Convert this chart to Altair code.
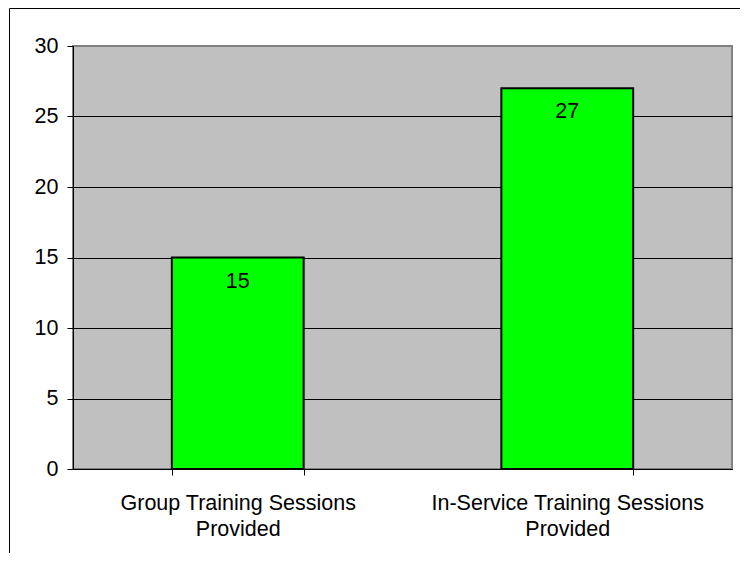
import altair as alt
import pandas as pd

categories = ["Group Training Sessions|Provided", "In-Service Training Sessions|Provided"]
values = [15, 27]
y_ticks = [0, 5, 10, 15, 20, 25, 30]

df = pd.DataFrame({"category": categories, "value": values})
FONT = "Liberation Sans"
FS = 21.5

x_enc = alt.X(
    "category:N", sort=categories, title=None,
    scale=alt.Scale(paddingInner=0.6, paddingOuter=0.3),
    axis=alt.Axis(labelAngle=0, labelExpr="split(datum.label, '|')",
                  labelFontSize=FS, labelFont=FONT, labelColor="black",
                  labelLineHeight=26, labelPadding=17, labelLimit=500,
                  tickBand="extent", tickSize=6, tickColor="black",
                  domainColor="black", grid=False),
)
y_enc = alt.Y(
    "value:Q", title=None,
    scale=alt.Scale(domain=[0, 30], nice=False),
    axis=alt.Axis(values=y_ticks, labelFontSize=FS, labelFont=FONT,
                  labelColor="black", labelPadding=9, tickSize=6,
                  tickColor="black", domainColor="black",
                  gridColor={"condition": {"test": "datum.value == 30", "value": "#808080"},
                             "value": "black"},
                  gridWidth=1, gridOpacity=1),
)

base = alt.Chart(df)
bars = base.mark_bar(color="#00FF00", stroke="black", strokeWidth=2).encode(x=x_enc, y=y_enc)
labels = base.mark_text(dy=30, baseline="alphabetic", fontSize=FS, font=FONT,
                        color="black").encode(x=x_enc, y=y_enc, text="value:Q")

frame = alt.Chart(pd.DataFrame({"a": [0]})).mark_rect(
    fillOpacity=0, stroke="black", strokeWidth=1, clip=False
).encode(x=alt.value(-63.5), x2=alt.value(900), y=alt.value(-37.5), y2=alt.value(900))

chart = alt.layer(bars, labels, frame).properties(
    width=659, height=423,
    autosize=alt.AutoSizeParams(type="none"),
    padding={"left": 65, "top": 38, "right": 8, "bottom": 84},
).configure_view(fill="#C0C0C0", stroke="#808080", strokeWidth=2)

chart.save("out.html", embed_options={"renderer": "svg", "actions": False})
